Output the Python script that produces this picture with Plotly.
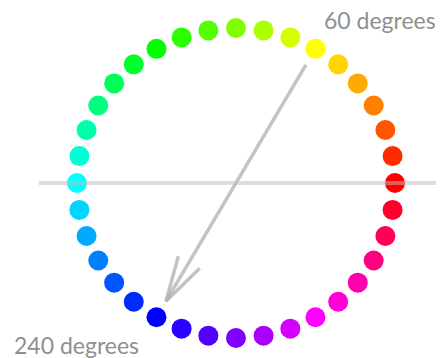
import numpy as np
import plotly.graph_objects as go

# ------------------------------------------------------------
# Data: hue wheel, one dot every 10 degrees
# ------------------------------------------------------------
hues = [0, 10, 20, 30, 40, 50, 60, 70, 80, 90, 100, 110,
        120, 130, 140, 150, 160, 170, 180, 190, 200, 210, 220, 230,
        240, 250, 260, 270, 280, 290, 300, 310, 320, 330, 340, 350]
arrow_from_hue = 60
arrow_to_hue = 240
label_from = "60 degrees"
label_to = "240 degrees"

# ring radius and arrow end radius (unit circle)
RING_R = 1.0
ARROW_R = 0.88
HEAD_LEN = 0.30      # length of the arrowhead arms
HEAD_ANGLE = 15      # half-angle of the open arrowhead

hue_rad = np.radians(hues)
xs = RING_R * np.cos(hue_rad)
ys = RING_R * np.sin(hue_rad)
colors = [f"hsl({h},100%,50%)" for h in hues]

a0 = np.radians(arrow_from_hue)
a1 = np.radians(arrow_to_hue)
start = np.array([ARROW_R * np.cos(a0), ARROW_R * np.sin(a0)])
tip = np.array([ARROW_R * np.cos(a1), ARROW_R * np.sin(a1)])

# open "V" arrowhead: two arms going back from the tip
back = np.arctan2(*(start - tip)[::-1])
arms = []
for d in (-HEAD_ANGLE, HEAD_ANGLE):
    ang = back + np.radians(d)
    arms.append(tip + HEAD_LEN * np.array([np.cos(ang), np.sin(ang)]))

arrow_x = [start[0], tip[0], None, arms[0][0], tip[0], arms[1][0]]
arrow_y = [start[1], tip[1], None, arms[0][1], tip[1], arms[1][1]]

fig = go.Figure()

fig.add_trace(go.Scatter(
    x=xs, y=ys, mode="markers", showlegend=False, hoverinfo="skip",
    marker=dict(size=20, color=colors, line=dict(width=0))
))

fig.add_trace(go.Scatter(
    x=arrow_x, y=arrow_y, mode="lines", showlegend=False, hoverinfo="skip",
    line=dict(color="rgba(175,175,175,0.75)", width=3.5)
))

# horizontal reference line (0 / 180 degrees)
fig.add_shape(type="line", x0=-1.24, x1=1.26, y0=0, y1=0,
              xref="x", yref="y", layer="above",
              line=dict(color="rgba(190,190,190,0.5)", width=4))

fig.add_annotation(
    x=0.988, y=0.945, xref="paper", yref="paper",
    xanchor="right", yanchor="middle", showarrow=False,
    text=label_from, font=dict(size=23, color="#8f8f8f", family="Lato")
)
fig.add_annotation(
    x=0.028, y=0.037, xref="paper", yref="paper",
    xanchor="left", yanchor="middle", showarrow=False,
    text=label_to, font=dict(size=23, color="#8f8f8f", family="Lato")
)

fig.update_layout(
    width=443, height=358,
    margin=dict(l=0, r=0, t=0, b=0),
    plot_bgcolor="white", paper_bgcolor="white",
    xaxis=dict(range=[-1.484, 1.302], visible=False, fixedrange=True),
    yaxis=dict(range=[-1.129, 1.181], visible=False, fixedrange=True),
)

fig.write_html("out.html", config={"displayModeBar": False},
               post_script="document.body.style.margin='0';")
